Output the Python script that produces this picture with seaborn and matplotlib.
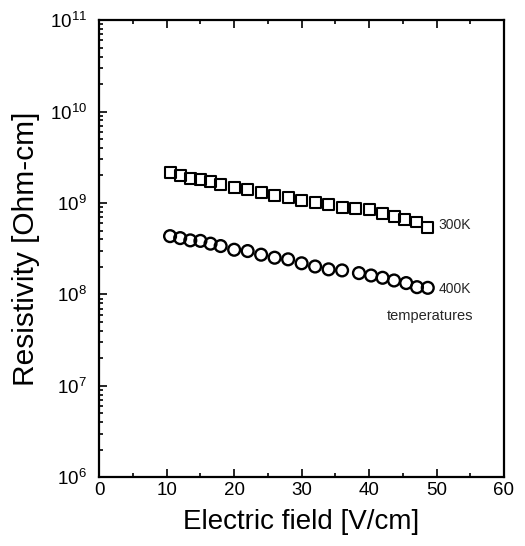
import seaborn as sns
import matplotlib.pyplot as plt
import matplotlib.ticker as mticker
import pandas as pd

# Data
field_300 = [10.5, 12, 13.5, 15, 16.5, 18, 20, 22, 24, 26, 28, 30, 32, 34, 36, 38, 40, 42, 43.8, 45.3, 47, 48.7]
rho_300 = [2.17e9, 2.02e9, 1.86e9, 1.82e9, 1.70e9, 1.60e9, 1.47e9, 1.39e9, 1.31e9, 1.20e9, 1.14e9,
           1.06e9, 1.01e9, 0.96e9, 0.90e9, 0.88e9, 0.85e9, 0.77e9, 0.72e9, 0.66e9, 0.62e9, 0.54e9]

field_400 = [10.5, 12, 13.5, 15, 16.5, 18, 20, 22, 24, 26, 28, 30, 32, 34, 36, 38.5, 40.3, 42, 43.7, 45.5, 47.1, 48.7]
rho_400 = [4.34e8, 4.13e8, 3.90e8, 3.85e8, 3.59e8, 3.38e8, 3.08e8, 2.98e8, 2.72e8, 2.52e8, 2.42e8,
           2.19e8, 2.02e8, 1.88e8, 1.83e8, 1.71e8, 1.61e8, 1.52e8, 1.42e8, 1.33e8, 1.20e8, 1.18e8]

df300 = pd.DataFrame({'field': field_300, 'rho': rho_300})
df400 = pd.DataFrame({'field': field_400, 'rho': rho_400})

sns.set_style('ticks')
plt.rcParams['font.family'] = ['Liberation Sans', 'DejaVu Sans']
plt.rcParams['mathtext.default'] = 'regular'

fig = plt.figure(figsize=(5.25, 5.46), dpi=100)
ax = fig.add_axes([0.189, 0.126, 0.771, 0.837])

sns.scatterplot(data=df300, x='field', y='rho', marker='s', s=62, facecolor='none',
                edgecolor='black', linewidth=1.5, ax=ax)
sns.scatterplot(data=df400, x='field', y='rho', marker='o', s=72, facecolor='none',
                edgecolor='black', linewidth=1.7, ax=ax)

ax.set_yscale('log')
ax.set_xlim(0, 60)
ax.set_ylim(1e6, 1e11)
ax.xaxis.set_major_locator(mticker.MultipleLocator(10))
ax.xaxis.set_minor_locator(mticker.MultipleLocator(5))
ax.yaxis.set_major_locator(mticker.LogLocator(base=10, numticks=10))
ax.yaxis.set_minor_locator(mticker.LogLocator(base=10, subs=range(2, 10), numticks=20))
ax.yaxis.set_minor_formatter(mticker.NullFormatter())

ax.tick_params(which='both', direction='in', top=True, right=False, labelsize=13.5,
               width=1.2, color='black', labelcolor='black')
ax.tick_params(which='major', length=6)
ax.tick_params(which='minor', length=3)
ax.tick_params(axis='y', which='major', pad=9)
for sp in ax.spines.values():
    sp.set_linewidth(1.6)
    sp.set_color('black')

ax.set_xlabel('Electric field [V/cm]', fontsize=20, labelpad=7, color='black')
ax.set_ylabel('Resistivity [Ohm-cm]', fontsize=21.5, labelpad=7, color='black')

ax.text(50.3, 5.7e8, '300K', fontsize=10, va='center', ha='left')
ax.text(50.3, 1.15e8, '400K', fontsize=10, va='center', ha='left')
ax.text(49.0, 5.75e7, 'temperatures', fontsize=10.5, va='center', ha='center')

plt.savefig('out.png', dpi=100)
